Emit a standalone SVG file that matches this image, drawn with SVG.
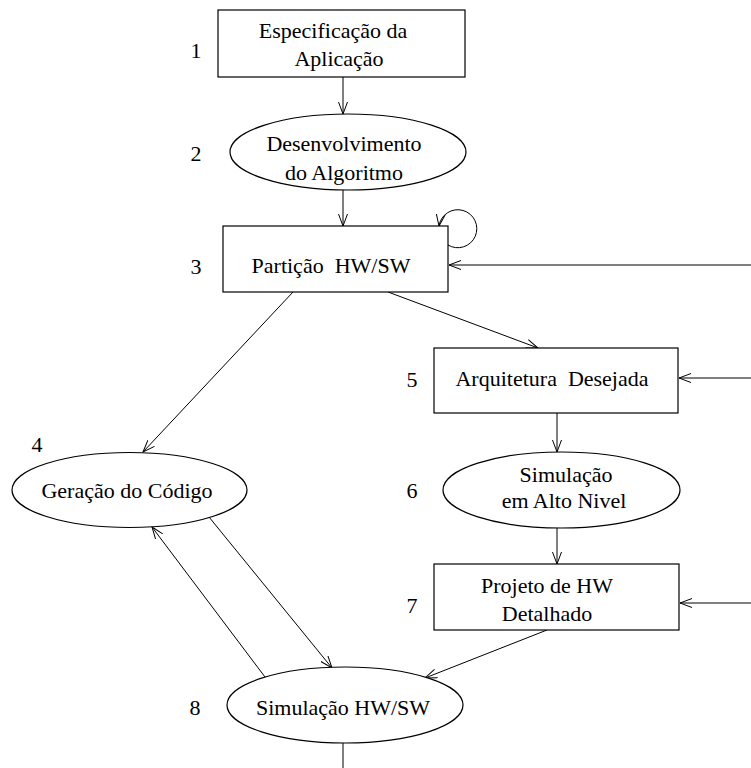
<svg xmlns="http://www.w3.org/2000/svg" width="751" height="768" viewBox="0 0 751 768">
  <style>
    .shape { fill: #ffffff; stroke: #000000; stroke-width: 1.2; }
    .edge { fill: none; stroke: #000000; stroke-width: 1; }
    .txt { font-family: "Liberation Serif", "Times New Roman", serif; font-size: 22px; fill: #000000; text-anchor: middle; }
    .num { font-family: "Liberation Serif", "Times New Roman", serif; font-size: 22px; fill: #000000; text-anchor: middle; }
  </style>
  <defs>
    <marker id="arrow" markerWidth="14" markerHeight="10" refX="12" refY="5" orient="auto" markerUnits="userSpaceOnUse">
      <path d="M0,0.5 L12,5 L0,9.5" fill="none" stroke="#000000" stroke-width="1"/>
    </marker>
  </defs>

  <rect width="751" height="768" fill="#ffffff"/>

  <!-- connectors -->
  <g id="connectors">
    <line class="edge" x1="343" y1="77" x2="343" y2="114" marker-end="url(#arrow)"/>
    <line class="edge" x1="343" y1="190" x2="343" y2="226" marker-end="url(#arrow)"/>
    <path class="edge" d="M448,245 A19,19 0 1 0 439,226" marker-end="url(#arrow)"/>
    <line class="edge" x1="751" y1="265" x2="449" y2="265" marker-end="url(#arrow)"/>
    <line class="edge" x1="293" y1="292" x2="143" y2="452" marker-end="url(#arrow)"/>
    <line class="edge" x1="388" y1="292" x2="538" y2="348" marker-end="url(#arrow)"/>
    <line class="edge" x1="751" y1="378" x2="679" y2="378" marker-end="url(#arrow)"/>
    <line class="edge" x1="557" y1="413" x2="557" y2="452" marker-end="url(#arrow)"/>
    <line class="edge" x1="557" y1="528" x2="557" y2="564" marker-end="url(#arrow)"/>
    <line class="edge" x1="751" y1="603" x2="680" y2="603" marker-end="url(#arrow)"/>
    <line class="edge" x1="209" y1="517" x2="332" y2="668" marker-end="url(#arrow)"/>
    <line class="edge" x1="265" y1="677" x2="152" y2="527" marker-end="url(#arrow)"/>
    <line class="edge" x1="547" y1="630" x2="425" y2="678" marker-end="url(#arrow)"/>
    <line class="edge" x1="343" y1="743" x2="343" y2="768"/>
  </g>

  <!-- 1: application specification -->
  <g id="node1">
    <rect class="shape" x="218" y="10" width="247" height="67"/>
    <text class="txt" x="333" y="38">Especificação da</text>
    <text class="txt" x="339" y="66">Aplicação</text>
    <text class="num" x="196" y="58">1</text>
  </g>

  <!-- 2: algorithm development -->
  <g id="node2">
    <ellipse class="shape" cx="348" cy="152" rx="118" ry="38"/>
    <text class="txt" x="344" y="151">Desenvolvimento</text>
    <text class="txt" x="344" y="180">do Algoritmo</text>
    <text class="num" x="196" y="161">2</text>
  </g>

  <!-- 3: HW/SW partitioning -->
  <g id="node3">
    <rect class="shape" x="223" y="226" width="225" height="66"/>
    <text class="txt" x="331" y="273" xml:space="preserve">Partição  HW/SW</text>
    <text class="num" x="196" y="274">3</text>
  </g>

  <!-- 4: code generation -->
  <g id="node4">
    <ellipse class="shape" cx="129.5" cy="490" rx="117.5" ry="37.5"/>
    <text class="txt" x="127" y="498">Geração do Código</text>
    <text class="num" x="37" y="452">4</text>
  </g>

  <!-- 5: target architecture -->
  <g id="node5">
    <rect class="shape" x="434" y="348" width="244" height="65"/>
    <text class="txt" x="552" y="386" xml:space="preserve">Arquitetura  Desejada</text>
    <text class="num" x="412" y="387">5</text>
  </g>

  <!-- 6: high-level simulation -->
  <g id="node6">
    <ellipse class="shape" cx="561.5" cy="490" rx="118.5" ry="38"/>
    <text class="txt" x="566" y="482">Simulação</text>
    <text class="txt" x="564" y="508">em Alto Nivel</text>
    <text class="num" x="412" y="498">6</text>
  </g>

  <!-- 7: detailed HW design -->
  <g id="node7">
    <rect class="shape" x="434" y="564" width="245" height="66"/>
    <text class="txt" x="547" y="593">Projeto de HW</text>
    <text class="txt" x="547" y="621">Detalhado</text>
    <text class="num" x="412" y="613">7</text>
  </g>

  <!-- 8: HW/SW co-simulation -->
  <g id="node8">
    <ellipse class="shape" cx="345" cy="705" rx="118" ry="38"/>
    <text class="txt" x="343" y="715">Simulação HW/SW</text>
    <text class="num" x="195" y="715">8</text>
  </g>
</svg>
